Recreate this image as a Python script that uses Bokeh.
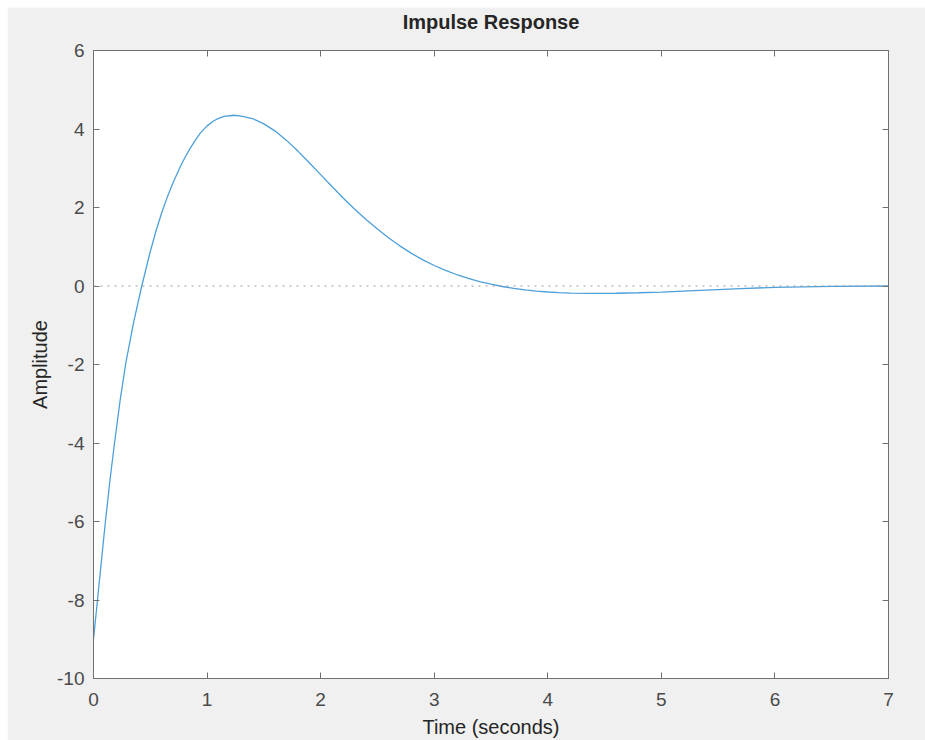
from bokeh.plotting import figure
from bokeh.models import LinearAxis, FixedTicker, Range1d, Span
from bokeh.embed import file_html
from bokeh.resources import INLINE

# Impulse response samples
time_s = [0.00, 0.035, 0.07, 0.105, 0.145, 0.185, 0.235, 0.285, 0.355, 0.425,
          0.50, 0.55, 0.60, 0.65, 0.70, 0.766, 0.81, 0.854, 0.90, 0.942,
          1.00, 1.06, 1.10, 1.15, 1.235, 1.30, 1.40, 1.50, 1.60, 1.70,
          1.80, 1.90, 2.00, 2.10, 2.20, 2.30, 2.40, 2.50, 2.60, 2.70,
          2.80, 2.90, 3.00, 3.10, 3.20, 3.30, 3.40, 3.50, 3.60, 3.70,
          3.80, 3.90, 4.00, 4.10, 4.20, 4.37, 4.60, 4.80, 5.00, 5.34,
          5.70, 6.00, 6.50, 7.00]
amplitude = [-9.0, -8.0, -7.0, -6.0, -4.95, -4.0, -2.9, -1.95, -0.9, 0.0,
             0.88, 1.40, 1.86, 2.27, 2.63, 3.05, 3.30, 3.52, 3.73, 3.90,
             4.08, 4.21, 4.27, 4.32, 4.35, 4.33, 4.267, 4.13, 3.947, 3.71,
             3.437, 3.14, 2.837, 2.535, 2.237, 1.955, 1.692, 1.45, 1.222, 1.017,
             0.832, 0.667, 0.522, 0.397, 0.287, 0.193, 0.112, 0.045, -0.013, -0.06,
             -0.098, -0.128, -0.153, -0.17, -0.181, -0.188, -0.185, -0.172, -0.155, -0.11,
             -0.065, -0.035, -0.01, 0.0]

x_ticks = [0, 1, 2, 3, 4, 5, 6, 7]
y_ticks = [-10, -8, -6, -4, -2, 0, 2, 4, 6]
y_tick_labels = {t: str(t) for t in y_ticks}
title_text = "Impulse Response"

FONT = "Liberation Sans"
AX = "#707070"
TXT = "#4a4a4a"

p = figure(width=918, height=733,
           x_range=Range1d(0, 7), y_range=Range1d(-10, 6),
           output_backend="svg", toolbar_location=None,
           background_fill_color="white", border_fill_color="#f0f0f0",
           min_border_left=86, min_border_right=37,
           min_border_top=43, min_border_bottom=62,
           x_axis_label="Time (seconds)", y_axis_label="Amplitude")
p.margin = (7, 0, 0, 7)
p.grid.visible = False
p.outline_line_color = AX

p.xaxis.ticker = FixedTicker(ticks=x_ticks)
p.yaxis.ticker = FixedTicker(ticks=y_ticks)
p.yaxis.major_label_overrides = y_tick_labels

for ax in (p.xaxis[0], p.yaxis[0]):
    ax.axis_line_color = AX
    ax.major_tick_line_color = AX
    ax.major_tick_in = 6
    ax.major_tick_out = 0
    ax.minor_tick_line_color = None
    ax.major_label_text_font = FONT
    ax.major_label_text_font_size = "19px"
    ax.major_label_text_color = TXT
    ax.axis_label_text_font = FONT
    ax.axis_label_text_font_size = "20px"
    ax.axis_label_text_font_style = "normal"
    ax.axis_label_text_color = "#262626"

p.xaxis.major_label_standoff = 14
p.xaxis.axis_label_standoff = 7
p.yaxis.major_label_standoff = 9
p.yaxis.axis_label_standoff = 3

# top axis carries the title text, right axis only the inward ticks
top_ax = LinearAxis(ticker=FixedTicker(ticks=x_ticks), axis_label=title_text)
right_ax = LinearAxis(ticker=FixedTicker(ticks=y_ticks))
for ax in (top_ax, right_ax):
    ax.axis_line_color = AX
    ax.major_tick_line_color = AX
    ax.major_tick_in = 6
    ax.major_tick_out = 0
    ax.minor_tick_line_color = None
    ax.major_label_text_font_size = "1px"
    ax.major_label_text_color = None
    ax.major_label_standoff = 0
top_ax.axis_label_text_font = FONT
top_ax.axis_label_text_font_size = "20px"
top_ax.axis_label_text_font_style = "bold"
top_ax.axis_label_text_color = "#262626"
top_ax.axis_label_standoff = 18
p.add_layout(top_ax, "above")
p.add_layout(right_ax, "right")

zero = Span(location=0, dimension="width", line_color="#999999",
            line_width=1, line_dash="2 5")
p.add_layout(zero)

p.line(time_s, amplitude, line_color="#4d9fd9", line_width=1.3)

open("out.html", "w").write(file_html(p, INLINE))
